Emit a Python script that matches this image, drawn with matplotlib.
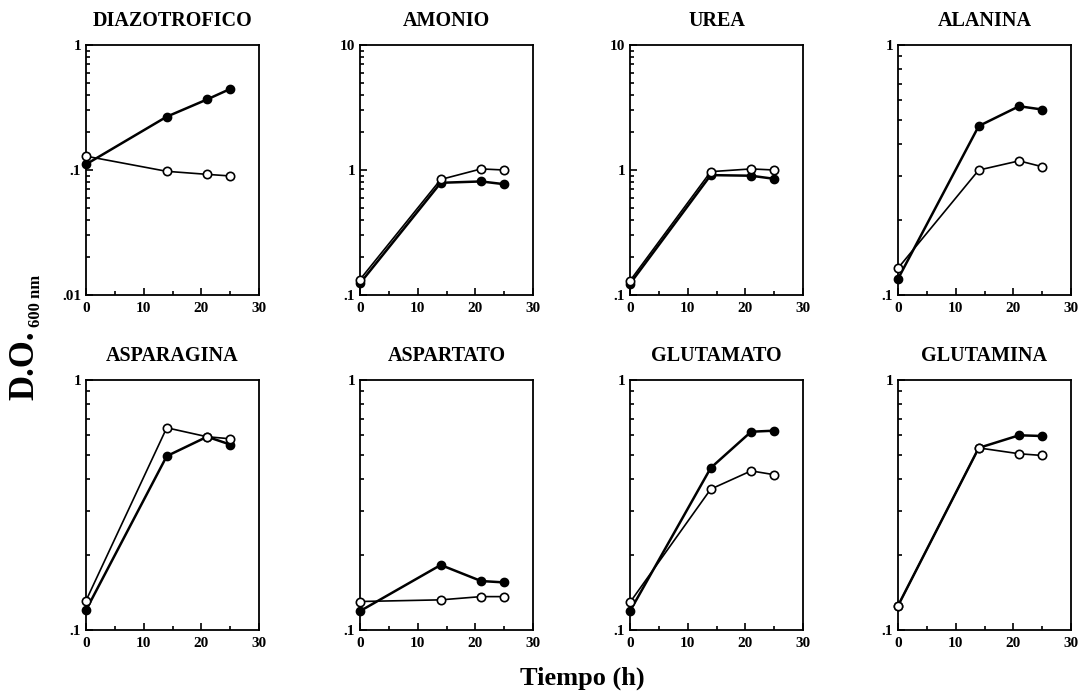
import numpy as np
from matplotlib import pyplot as plt
from matplotlib.ticker import FixedLocator, NullFormatter, LogLocator

plt.rcParams['font.family'] = ['Liberation Serif', 'DejaVu Serif']

# tiempo (h)
horas = [0, 14, 21, 25]

titulos = ["DIAZOTROFICO", "AMONIO", "UREA", "ALANINA",
           "ASPARAGINA", "ASPARTATO", "GLUTAMATO", "GLUTAMINA"]

# serie con circulos rellenos
llenos = [
    [0.111, 0.267, 0.367, 0.445],
    [0.124, 0.79, 0.81, 0.77],
    [0.123, 0.91, 0.90, 0.85],
    [0.116, 0.474, 0.569, 0.552],
    [0.120, 0.496, 0.593, 0.552],
    [0.119, 0.182, 0.157, 0.155],
    [0.119, 0.445, 0.621, 0.627],
    [0.125, 0.535, 0.601, 0.597],
]
# serie con circulos abiertos
abiertos = [
    [0.129, 0.0976, 0.0923, 0.0896],
    [0.133, 0.84, 1.02, 1.0],
    [0.130, 0.97, 1.02, 1.0],
    [0.128, 0.316, 0.344, 0.326],
    [0.131, 0.644, 0.593, 0.582],
    [0.130, 0.132, 0.136, 0.136],
    [0.129, 0.366, 0.433, 0.418],
    [0.125, 0.535, 0.507, 0.499],
]
limites_y = [(0.01, 1), (0.1, 10), (0.1, 10), (0.1, 1),
             (0.1, 1), (0.1, 1), (0.1, 1), (0.1, 1)]

def etiqueta(v):
    if v >= 1:
        return "%d" % v
    return ("%g" % v).lstrip("0")

W, H = 1081, 695
fig = plt.figure(figsize=(W / 100, H / 100), dpi=100)

lefts = [86, 360, 630, 898]
tops = [45, 380]
aw, ah = 173, 250

for i in range(8):
    fila, col = divmod(i, 4)
    ax = fig.add_axes([lefts[col] / W, 1 - (tops[fila] + ah) / H, aw / W, ah / H])
    ax.set_yscale('log')
    ax.plot(horas, llenos[i], '-o', color='black', lw=1.8, ms=6,
            mfc='black', mec='black', zorder=3, clip_on=False)
    ax.plot(horas, abiertos[i], '-o', color='black', lw=1.2, ms=6,
            mfc='white', mec='black', mew=1.2, zorder=4, clip_on=False)
    ax.set_xlim(0, 30)
    lo, hi = limites_y[i]
    ax.set_ylim(lo, hi)
    ax.set_xticks([0, 10, 20, 30])
    ax.xaxis.set_minor_locator(FixedLocator([5, 15, 25]))
    mayores = [v for v in [0.01, 0.1, 1, 10] if lo <= v <= hi]
    ax.yaxis.set_major_locator(FixedLocator(mayores))
    ax.set_yticklabels([etiqueta(v) for v in mayores])
    ax.yaxis.set_minor_locator(LogLocator(base=10, subs=np.arange(2, 10)))
    ax.yaxis.set_minor_formatter(NullFormatter())
    ax.tick_params(which='both', direction='in', top=False, right=False,
                   labelsize=11, width=1.2)
    ax.tick_params(which='major', length=5)
    ax.tick_params(which='minor', length=3)
    ax.tick_params(axis='x', pad=5)
    for lab in ax.get_xticklabels() + ax.get_yticklabels():
        lab.set_fontweight('bold')
    for s in ax.spines.values():
        s.set_linewidth(1.3)
    ax.set_title(titulos[i], fontsize=14.5, fontweight='bold', pad=14)

fig.text(25 / W, 1 - 400 / H, "D.O.", rotation=90,
         ha='center', va='bottom', fontsize=25, fontweight='bold')
fig.text(36 / W, 1 - 327 / H, "600 nm", rotation=90,
         ha='center', va='bottom', fontsize=12, fontweight='bold')
fig.text(582 / W, 1 - 678 / H, "Tiempo (h)", ha='center', va='center',
         fontsize=19, fontweight='bold')

plt.savefig("out.png", dpi=100)
